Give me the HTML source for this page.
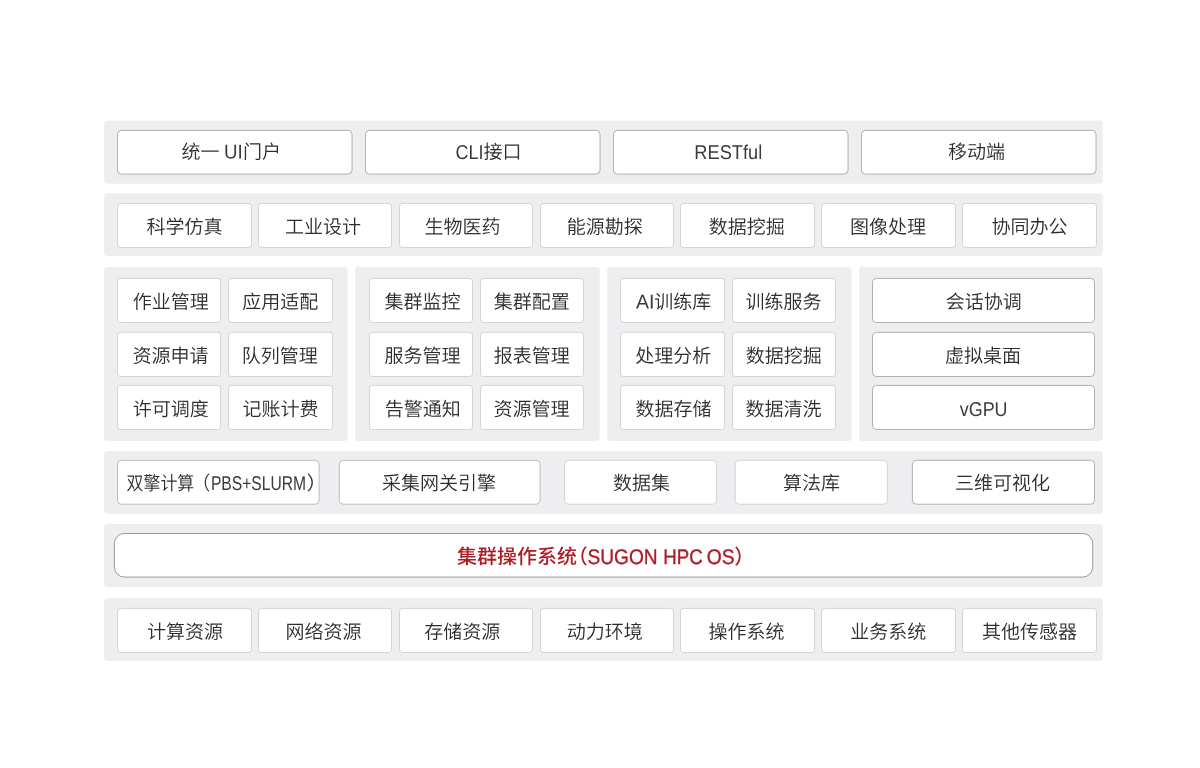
<!DOCTYPE html>
<html lang="zh-CN"><head><meta charset="utf-8"><title>集群操作系统架构</title>
<style>
html,body{margin:0;padding:0;background:#fff;}
body{width:1200px;height:768px;overflow:hidden;}
svg{display:block;will-change:transform;}
text{font-family:"Liberation Sans", "Noto Sans CJK SC", sans-serif;white-space:pre;text-rendering:geometricPrecision;}
</style></head><body>
<svg width="1200" height="768" viewBox="0 0 1200 768">
<g>
<rect x="104.00" y="120.60" width="998.80" height="63.20" rx="3.5" fill="#eeeef0"/>
<rect x="117.50" y="130.40" width="234.50" height="43.65" rx="4" fill="#fff" stroke="#6a6a6d" stroke-width="0.5"/>
<rect x="365.50" y="130.40" width="234.50" height="43.65" rx="4" fill="#fff" stroke="#6a6a6d" stroke-width="0.5"/>
<rect x="613.50" y="130.40" width="234.50" height="43.65" rx="4" fill="#fff" stroke="#6a6a6d" stroke-width="0.5"/>
<rect x="861.50" y="130.40" width="234.50" height="43.65" rx="4" fill="#fff" stroke="#6a6a6d" stroke-width="0.5"/>
<rect x="104.00" y="193.20" width="998.80" height="62.80" rx="3.5" fill="#eeeef0"/>
<rect x="117.50" y="203.45" width="134.00" height="44.05" rx="3" fill="#fff" stroke="#b0b0b3" stroke-width="0.5"/>
<rect x="258.50" y="203.45" width="133.00" height="44.05" rx="3" fill="#fff" stroke="#b0b0b3" stroke-width="0.5"/>
<rect x="399.50" y="203.45" width="133.00" height="44.05" rx="3" fill="#fff" stroke="#b0b0b3" stroke-width="0.5"/>
<rect x="540.50" y="203.45" width="133.00" height="44.05" rx="3" fill="#fff" stroke="#b0b0b3" stroke-width="0.5"/>
<rect x="680.50" y="203.45" width="134.00" height="44.05" rx="3" fill="#fff" stroke="#b0b0b3" stroke-width="0.5"/>
<rect x="821.50" y="203.45" width="134.00" height="44.05" rx="3" fill="#fff" stroke="#b0b0b3" stroke-width="0.5"/>
<rect x="962.50" y="203.45" width="134.00" height="44.05" rx="3" fill="#fff" stroke="#b0b0b3" stroke-width="0.5"/>
<rect x="104.00" y="267.10" width="243.70" height="173.80" rx="3.5" fill="#eeeef0"/>
<rect x="355.20" y="267.10" width="244.50" height="173.80" rx="3.5" fill="#eeeef0"/>
<rect x="607.20" y="267.10" width="244.30" height="173.80" rx="3.5" fill="#eeeef0"/>
<rect x="859.20" y="267.10" width="243.60" height="173.80" rx="3.5" fill="#eeeef0"/>
<rect x="117.50" y="278.40" width="103.00" height="44.10" rx="3" fill="#fff" stroke="#b0b0b3" stroke-width="0.5"/>
<rect x="228.50" y="278.40" width="104.00" height="44.10" rx="3" fill="#fff" stroke="#b0b0b3" stroke-width="0.5"/>
<rect x="369.50" y="278.40" width="103.00" height="44.10" rx="3" fill="#fff" stroke="#b0b0b3" stroke-width="0.5"/>
<rect x="480.50" y="278.40" width="103.00" height="44.10" rx="3" fill="#fff" stroke="#b0b0b3" stroke-width="0.5"/>
<rect x="620.50" y="278.40" width="104.00" height="44.10" rx="3" fill="#fff" stroke="#b0b0b3" stroke-width="0.5"/>
<rect x="732.50" y="278.40" width="103.00" height="44.10" rx="3" fill="#fff" stroke="#b0b0b3" stroke-width="0.5"/>
<rect x="872.50" y="278.40" width="222.00" height="44.10" rx="4" fill="#fff" stroke="#6a6a6d" stroke-width="0.5"/>
<rect x="117.50" y="332.35" width="103.00" height="44.15" rx="3" fill="#fff" stroke="#b0b0b3" stroke-width="0.5"/>
<rect x="228.50" y="332.35" width="104.00" height="44.15" rx="3" fill="#fff" stroke="#b0b0b3" stroke-width="0.5"/>
<rect x="369.50" y="332.35" width="103.00" height="44.15" rx="3" fill="#fff" stroke="#b0b0b3" stroke-width="0.5"/>
<rect x="480.50" y="332.35" width="103.00" height="44.15" rx="3" fill="#fff" stroke="#b0b0b3" stroke-width="0.5"/>
<rect x="620.50" y="332.35" width="104.00" height="44.15" rx="3" fill="#fff" stroke="#b0b0b3" stroke-width="0.5"/>
<rect x="732.50" y="332.35" width="103.00" height="44.15" rx="3" fill="#fff" stroke="#b0b0b3" stroke-width="0.5"/>
<rect x="872.50" y="332.35" width="222.00" height="44.15" rx="4" fill="#fff" stroke="#6a6a6d" stroke-width="0.5"/>
<rect x="117.50" y="385.40" width="103.00" height="44.10" rx="3" fill="#fff" stroke="#b0b0b3" stroke-width="0.5"/>
<rect x="228.50" y="385.40" width="104.00" height="44.10" rx="3" fill="#fff" stroke="#b0b0b3" stroke-width="0.5"/>
<rect x="369.50" y="385.40" width="103.00" height="44.10" rx="3" fill="#fff" stroke="#b0b0b3" stroke-width="0.5"/>
<rect x="480.50" y="385.40" width="103.00" height="44.10" rx="3" fill="#fff" stroke="#b0b0b3" stroke-width="0.5"/>
<rect x="620.50" y="385.40" width="104.00" height="44.10" rx="3" fill="#fff" stroke="#b0b0b3" stroke-width="0.5"/>
<rect x="732.50" y="385.40" width="103.00" height="44.10" rx="3" fill="#fff" stroke="#b0b0b3" stroke-width="0.5"/>
<rect x="872.50" y="385.40" width="222.00" height="44.10" rx="4" fill="#fff" stroke="#6a6a6d" stroke-width="0.5"/>
<rect x="104.00" y="451.10" width="998.80" height="62.90" rx="3.5" fill="#eeeef0"/>
<rect x="117.50" y="460.30" width="201.60" height="43.90" rx="4" fill="#fff" stroke="#858588" stroke-width="0.5"/>
<rect x="339.30" y="460.30" width="200.80" height="43.90" rx="4" fill="#fff" stroke="#858588" stroke-width="0.5"/>
<rect x="564.50" y="460.30" width="152.10" height="43.90" rx="4" fill="#fff" stroke="#b0b0b3" stroke-width="0.5"/>
<rect x="735.30" y="460.30" width="152.00" height="43.90" rx="4" fill="#fff" stroke="#b0b0b3" stroke-width="0.5"/>
<rect x="912.40" y="460.30" width="182.10" height="43.90" rx="4" fill="#fff" stroke="#6a6a6d" stroke-width="0.5"/>
<rect x="104.00" y="524.00" width="998.80" height="63.00" rx="3.5" fill="#eeeef0"/>
<rect x="114.40" y="533.50" width="978.30" height="43.55" rx="10" fill="#fff" stroke="#3e3e41" stroke-width="0.5"/>
<rect x="104.00" y="598.00" width="998.80" height="63.00" rx="3.5" fill="#eeeef0"/>
<rect x="117.50" y="608.40" width="134.00" height="44.10" rx="3" fill="#fff" stroke="#b0b0b3" stroke-width="0.5"/>
<rect x="258.50" y="608.40" width="133.00" height="44.10" rx="3" fill="#fff" stroke="#b0b0b3" stroke-width="0.5"/>
<rect x="399.50" y="608.40" width="133.00" height="44.10" rx="3" fill="#fff" stroke="#b0b0b3" stroke-width="0.5"/>
<rect x="540.50" y="608.40" width="133.00" height="44.10" rx="3" fill="#fff" stroke="#b0b0b3" stroke-width="0.5"/>
<rect x="680.50" y="608.40" width="134.00" height="44.10" rx="3" fill="#fff" stroke="#b0b0b3" stroke-width="0.5"/>
<rect x="821.50" y="608.40" width="134.00" height="44.10" rx="3" fill="#fff" stroke="#b0b0b3" stroke-width="0.5"/>
<rect x="962.50" y="608.40" width="134.00" height="44.10" rx="3" fill="#fff" stroke="#b0b0b3" stroke-width="0.5"/>
</g>
<g>
<text y="158.60" transform="rotate(0.03 230.4 158.60)" font-size="19" font-weight="350" fill="#2d2d2d"><tspan id="s0" x="181.40">统一 </tspan><tspan id="s1" x="223.91" textLength="18.71" lengthAdjust="spacingAndGlyphs" fill="#3a3a3a" font-size="19.95">UI</tspan><tspan id="s2" x="242.88">门户</tspan></text>
<text y="158.60" transform="rotate(0.03 487.6 158.60)" font-size="19" font-weight="350" fill="#2d2d2d"><tspan id="s3" x="455.47" textLength="27.94" lengthAdjust="spacingAndGlyphs" fill="#3a3a3a" font-size="19.95">CLI</tspan><tspan id="s4" x="483.55">接口</tspan></text>
<text y="158.60" transform="rotate(0.03 728.5 158.60)" font-size="19" font-weight="350" fill="#2d2d2d"><tspan id="s5" x="694.34" textLength="67.86" lengthAdjust="spacingAndGlyphs" fill="#3a3a3a" font-size="19.95">RESTful</tspan></text>
<text y="158.60" transform="rotate(0.03 976.4 158.60)" font-size="19" font-weight="350" fill="#2d2d2d"><tspan id="s6" x="948.09">移动端</tspan></text>
<text y="233.60" transform="rotate(0.03 184.3 233.60)" font-size="19" font-weight="350" fill="#2d2d2d"><tspan id="s7" x="146.54">科学仿真</tspan></text>
<text y="233.60" transform="rotate(0.03 323.2 233.60)" font-size="19" font-weight="350" fill="#2d2d2d"><tspan id="s8" x="284.92">工业设计</tspan></text>
<text y="233.60" transform="rotate(0.03 462.5 233.60)" font-size="19" font-weight="350" fill="#2d2d2d"><tspan id="s9" x="424.49">生物医药</tspan></text>
<text y="233.60" transform="rotate(0.03 605.0 233.60)" font-size="19" font-weight="350" fill="#2d2d2d"><tspan id="s10" x="566.73">能源勘探</tspan></text>
<text y="233.60" transform="rotate(0.03 746.5 233.60)" font-size="19" font-weight="350" fill="#2d2d2d"><tspan id="s11" x="708.76">数据挖掘</tspan></text>
<text y="233.60" transform="rotate(0.03 888.3 233.60)" font-size="19" font-weight="350" fill="#2d2d2d"><tspan id="s12" x="849.94">图像处理</tspan></text>
<text y="233.60" transform="rotate(0.03 1029.6 233.60)" font-size="19" font-weight="350" fill="#2d2d2d"><tspan id="s13" x="991.59">协同办公</tspan></text>
<text y="638.60" transform="rotate(0.03 185.0 638.60)" font-size="19" font-weight="350" fill="#2d2d2d"><tspan id="s14" x="147.03">计算资源</tspan></text>
<text y="638.60" transform="rotate(0.03 324.0 638.60)" font-size="19" font-weight="350" fill="#2d2d2d"><tspan id="s15" x="285.62">网络资源</tspan></text>
<text y="638.60" transform="rotate(0.03 462.3 638.60)" font-size="19" font-weight="350" fill="#2d2d2d"><tspan id="s16" x="424.31">存储资源</tspan></text>
<text y="638.60" transform="rotate(0.03 604.8 638.60)" font-size="19" font-weight="350" fill="#2d2d2d"><tspan id="s17" x="566.63">动力环境</tspan></text>
<text y="638.60" transform="rotate(0.03 746.7 638.60)" font-size="19" font-weight="350" fill="#2d2d2d"><tspan id="s18" x="708.62">操作系统</tspan></text>
<text y="638.60" transform="rotate(0.03 888.6 638.60)" font-size="19" font-weight="350" fill="#2d2d2d"><tspan id="s19" x="850.36">业务系统</tspan></text>
<text y="638.60" transform="rotate(0.03 1029.4 638.60)" font-size="19" font-weight="350" fill="#2d2d2d"><tspan id="s20" x="981.88">其他传感器</tspan></text>
<text y="308.60" transform="rotate(0.03 170.7 308.60)" font-size="19" font-weight="350" fill="#2d2d2d"><tspan id="s21" x="132.75">作业管理</tspan></text>
<text y="308.60" transform="rotate(0.03 280.3 308.60)" font-size="19" font-weight="350" fill="#2d2d2d"><tspan id="s22" x="242.16">应用适配</tspan></text>
<text y="308.60" transform="rotate(0.03 422.6 308.60)" font-size="19" font-weight="350" fill="#2d2d2d"><tspan id="s23" x="384.43">集群监控</tspan></text>
<text y="308.60" transform="rotate(0.03 531.6 308.60)" font-size="19" font-weight="350" fill="#2d2d2d"><tspan id="s24" x="493.67">集群配置</tspan></text>
<text y="308.60" transform="rotate(0.03 673.1 308.60)" font-size="19" font-weight="350" fill="#2d2d2d"><tspan id="s25" x="636.10" textLength="18.39" lengthAdjust="spacingAndGlyphs" fill="#3a3a3a" font-size="19.95">AI</tspan><tspan id="s26" x="654.36">训练库</tspan></text>
<text y="308.60" transform="rotate(0.03 783.4 308.60)" font-size="19" font-weight="350" fill="#2d2d2d"><tspan id="s27" x="745.59">训练服务</tspan></text>
<text y="308.60" transform="rotate(0.03 983.4 308.60)" font-size="19" font-weight="350" fill="#2d2d2d"><tspan id="s28" x="945.72">会话协调</tspan></text>
<text y="362.50" transform="rotate(0.03 170.4 362.50)" font-size="19" font-weight="350" fill="#2d2d2d"><tspan id="s29" x="132.40">资源申请</tspan></text>
<text y="362.50" transform="rotate(0.03 280.4 362.50)" font-size="19" font-weight="350" fill="#2d2d2d"><tspan id="s30" x="241.82">队列管理</tspan></text>
<text y="362.50" transform="rotate(0.03 422.5 362.50)" font-size="19" font-weight="350" fill="#2d2d2d"><tspan id="s31" x="384.41">服务管理</tspan></text>
<text y="362.50" transform="rotate(0.03 531.6 362.50)" font-size="19" font-weight="350" fill="#2d2d2d"><tspan id="s32" x="493.64">报表管理</tspan></text>
<text y="362.50" transform="rotate(0.03 673.5 362.50)" font-size="19" font-weight="350" fill="#2d2d2d"><tspan id="s33" x="635.16">处理分析</tspan></text>
<text y="362.50" transform="rotate(0.03 783.5 362.50)" font-size="19" font-weight="350" fill="#2d2d2d"><tspan id="s34" x="745.67">数据挖掘</tspan></text>
<text y="362.50" transform="rotate(0.03 983.2 362.50)" font-size="19" font-weight="350" fill="#2d2d2d"><tspan id="s35" x="945.12">虚拟桌面</tspan></text>
<text y="415.70" transform="rotate(0.03 170.7 415.70)" font-size="19" font-weight="350" fill="#2d2d2d"><tspan id="s36" x="132.71">许可调度</tspan></text>
<text y="415.70" transform="rotate(0.03 280.4 415.70)" font-size="19" font-weight="350" fill="#2d2d2d"><tspan id="s37" x="242.56">记账计费</tspan></text>
<text y="415.70" transform="rotate(0.03 422.6 415.70)" font-size="19" font-weight="350" fill="#2d2d2d"><tspan id="s38" x="384.86">告警通知</tspan></text>
<text y="415.70" transform="rotate(0.03 531.9 415.70)" font-size="19" font-weight="350" fill="#2d2d2d"><tspan id="s39" x="493.62">资源管理</tspan></text>
<text y="415.70" transform="rotate(0.03 673.7 415.70)" font-size="19" font-weight="350" fill="#2d2d2d"><tspan id="s40" x="635.51">数据存储</tspan></text>
<text y="415.70" transform="rotate(0.03 783.8 415.70)" font-size="19" font-weight="350" fill="#2d2d2d"><tspan id="s41" x="745.55">数据清洗</tspan></text>
<text y="415.70" transform="rotate(0.03 983.1 415.70)" font-size="19" font-weight="350" fill="#2d2d2d"><tspan id="s42" x="959.83" textLength="47.70" lengthAdjust="spacingAndGlyphs" fill="#3a3a3a" font-size="19.95">vGPU</tspan></text>
<text y="489.70" transform="rotate(0.03 220.1 489.70)" font-size="19" font-weight="350" fill="#2d2d2d"><tspan id="s43" x="126.62" textLength="67.61" lengthAdjust="spacingAndGlyphs">双擎计算</tspan><tspan id="s44" x="191.77" textLength="18.52" lengthAdjust="spacingAndGlyphs">（</tspan><tspan id="s45" x="210.90" textLength="95.17" lengthAdjust="spacingAndGlyphs" fill="#3a3a3a" font-size="19.95">PBS+SLURM</tspan><tspan id="s46" x="306.51" textLength="21.37" lengthAdjust="spacingAndGlyphs">）</tspan></text>
<text y="489.70" transform="rotate(0.03 438.9 489.70)" font-size="19" font-weight="350" fill="#2d2d2d"><tspan id="s47" x="382.06">采集网关引擎</tspan></text>
<text y="489.70" transform="rotate(0.03 641.4 489.70)" font-size="19" font-weight="350" fill="#2d2d2d"><tspan id="s48" x="612.90">数据集</tspan></text>
<text y="489.70" transform="rotate(0.03 811.5 489.70)" font-size="19" font-weight="350" fill="#2d2d2d"><tspan id="s49" x="782.92">算法库</tspan></text>
<text y="489.70" transform="rotate(0.03 1002.6 489.70)" font-size="19" font-weight="350" fill="#2d2d2d"><tspan id="s50" x="954.93">三维可视化</tspan></text>
<text y="563.60" transform="rotate(0.03 599.0 563.60)" font-size="20" font-weight="500" fill="#ae1c26"><tspan id="s51" x="456.96">集群操作系统</tspan><tspan id="s52" x="567.64">（</tspan><tspan id="s53" x="587.45" textLength="75.46" lengthAdjust="spacingAndGlyphs" font-size="21.00" stroke="#ae1c26" stroke-width="0.35">SUGON </tspan><tspan id="s54" x="663.23" textLength="44.61" lengthAdjust="spacingAndGlyphs" font-size="21.00" stroke="#ae1c26" stroke-width="0.35">HPC </tspan><tspan id="s55" x="706.67" textLength="27.81" lengthAdjust="spacingAndGlyphs" font-size="21.00" stroke="#ae1c26" stroke-width="0.35">OS</tspan><tspan id="s56" x="734.16">）</tspan></text>
</g>
</svg>
</body></html>
